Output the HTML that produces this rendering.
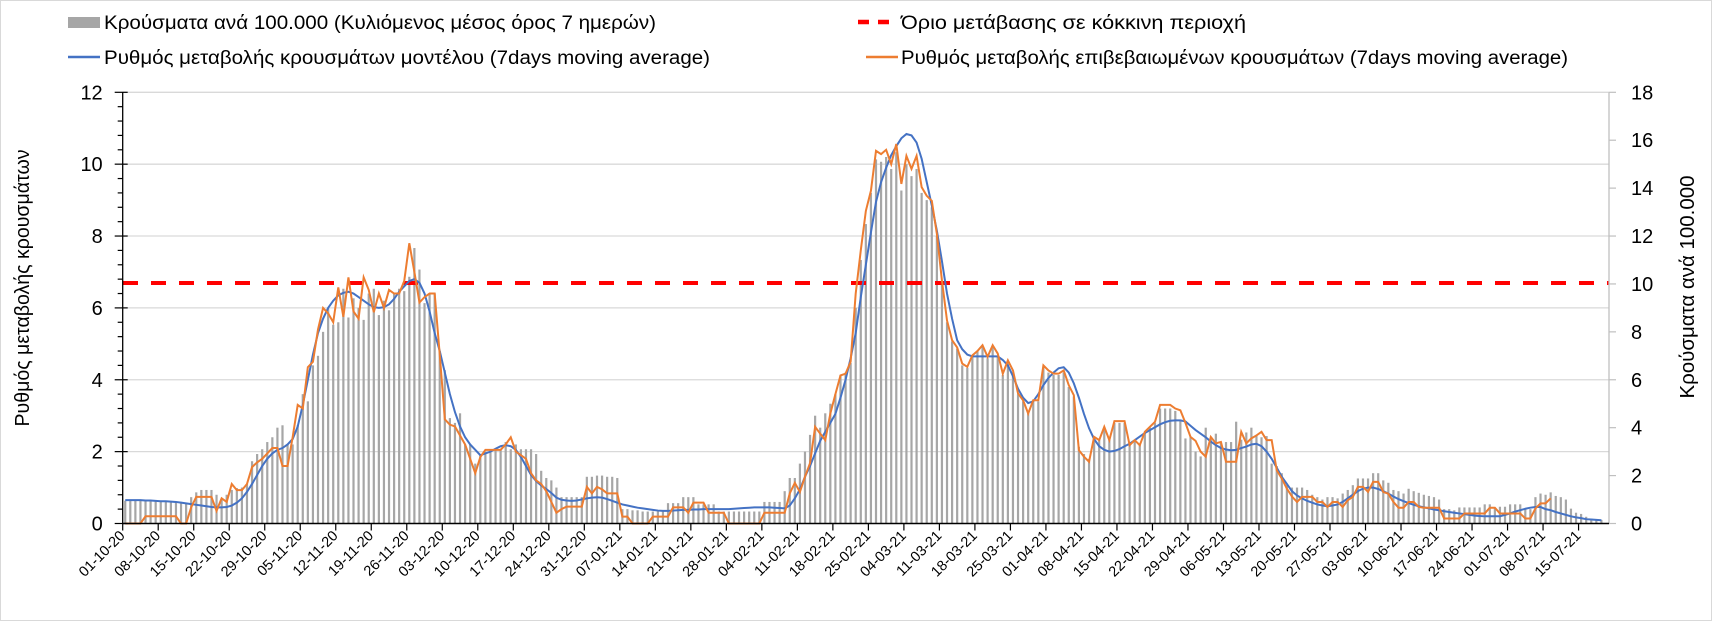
<!DOCTYPE html>
<html><head><meta charset="utf-8"><style>
html,body{margin:0;padding:0;background:#fff;}
svg{display:block;font-family:"Liberation Sans",sans-serif;}
</style></head><body>
<svg id="chart" width="1712" height="621" viewBox="0 0 1712 621" xmlns="http://www.w3.org/2000/svg">
<rect x="0.5" y="0.5" width="1711" height="620" fill="#fff" stroke="#d9d9d9" stroke-width="1"/>
<g id="grid"></g>
<g id="bars"></g>
<line x1="123" x2="1609" y1="283" y2="283" stroke="#ff0000" stroke-width="4" stroke-dasharray="15 13"/>
<path id="blue" fill="none" stroke="#4472c4" stroke-width="2"/>
<path id="orange" fill="none" stroke="#ed7d31" stroke-width="2"/>
<g id="axes"></g>
<g font-size="19" fill="#000">
 <g>
  <rect x="68" y="17" width="32" height="11" fill="#a6a6a6"/>
  <text x="104" y="29" textLength="552" lengthAdjust="spacingAndGlyphs">Κρούσματα ανά 100.000 (Κυλιόμενος μέσος όρος 7 ημερών)</text>
 </g>
 <g>
  <line x1="68" x2="100" y1="57" y2="57" stroke="#4472c4" stroke-width="2.5"/>
  <text x="104" y="64" textLength="606" lengthAdjust="spacingAndGlyphs">Ρυθμός μεταβολής κρουσμάτων μοντέλου (7days moving average)</text>
 </g>
 <g>
  <line x1="858" x2="898" y1="22" y2="22" stroke="#ff0000" stroke-width="4.5" stroke-dasharray="11 9"/>
  <text x="901" y="29" textLength="345" lengthAdjust="spacingAndGlyphs">Όριο μετάβασης σε κόκκινη περιοχή</text>
 </g>
 <g>
  <line x1="866" x2="898" y1="57" y2="57" stroke="#ed7d31" stroke-width="2.5"/>
  <text x="901" y="64" textLength="667" lengthAdjust="spacingAndGlyphs">Ρυθμός μεταβολής επιβεβαιωμένων κρουσμάτων (7days moving average)</text>
 </g>
</g>
<text transform="translate(29,288) rotate(-90)" text-anchor="middle" font-size="20" textLength="277" lengthAdjust="spacingAndGlyphs">Ρυθμός μεταβολής κρουσμάτων</text>
<text transform="translate(1694,287) rotate(-90)" text-anchor="middle" font-size="20" textLength="223" lengthAdjust="spacingAndGlyphs">Κρούσματα ανά 100.000</text>
</svg>
<script>
const xLabels=["01-10-20","08-10-20","15-10-20","22-10-20","29-10-20","05-11-20","12-11-20","19-11-20","26-11-20","03-12-20","10-12-20","17-12-20","24-12-20","31-12-20","07-01-21","14-01-21","21-01-21","28-01-21","04-02-21","11-02-21","18-02-21","25-02-21","04-03-21","11-03-21","18-03-21","25-03-21","01-04-21","08-04-21","15-04-21","22-04-21","29-04-21","06-05-21","13-05-21","20-05-21","27-05-21","03-06-21","10-06-21","17-06-21","24-06-21","01-07-21","08-07-21","15-07-21"];
const leftTicks=[0,2,4,6,8,10,12];
const rightTicks=[0,2,4,6,8,10,12,14,16,18];
const modelRate=[.65,.65,.65,.65,.64,.64,.63,.62,.62,.61,
.60,.58,.56,.54,.52,.50,.48,.46,.45,.45,
.46,.5,.58,.7,.88,1.1,1.35,1.6,1.8,1.95,
2.05,2.1,2.2,2.35,2.7,3.3,4.0,4.7,5.3,5.7,
6.0,6.2,6.35,6.42,6.45,6.4,6.3,6.2,6.1,6.02,
6.0,6.02,6.1,6.25,6.45,6.6,6.75,6.8,6.7,6.4,
5.9,5.3,4.8,4.2,3.6,3.1,2.7,2.4,2.2,2.05,
1.9,1.95,2.0,2.08,2.15,2.18,2.15,2.05,1.85,1.6,
1.35,1.18,1.06,.96,.85,.72,.66,.64,.63,.64,
.67,.7,.72,.73,.72,.68,.63,.58,.53,.5,
.47,.44,.42,.4,.38,.36,.35,.35,.36,.37,
.38,.38,.39,.39,.4,.4,.4,.4,.4,.4,
.41,.42,.43,.44,.45,.45,.45,.45,.44,.43,
.42,.5,.7,.95,1.3,1.6,1.95,2.3,2.55,2.8,
3.05,3.5,4.0,4.6,5.3,6.3,7.2,8.1,8.95,9.5,
9.9,10.25,10.5,10.72,10.84,10.8,10.6,10.15,9.5,8.85,
8.15,7.3,6.4,5.7,5.1,4.85,4.7,4.65,4.65,4.65,
4.65,4.65,4.65,4.55,4.4,4.1,3.75,3.5,3.35,3.4,
3.6,3.85,4.05,4.2,4.32,4.35,4.2,3.9,3.5,3.05,
2.65,2.35,2.15,2.05,2.0,2.02,2.07,2.15,2.22,2.32,
2.42,2.52,2.6,2.68,2.76,2.82,2.86,2.87,2.87,2.84,
2.72,2.6,2.5,2.4,2.28,2.18,2.1,2.06,2.04,2.05,
2.1,2.14,2.2,2.22,2.15,2.0,1.8,1.55,1.3,1.1,
.9,.78,.7,.63,.58,.53,.5,.48,.5,.53,
.6,.7,.8,.9,.97,1.0,1.0,.96,.9,.83,
.75,.68,.62,.57,.52,.48,.45,.42,.39,.37,
.34,.32,.3,.28,.26,.24,.22,.21,.2,.2,
.2,.2,.24,.28,.33,.37,.41,.44,.46,.46,
.4,.37,.32,.28,.24,.2,.17,.15,.12,.11,.1,.09];
const confirmedRate=[0,0,0,0,.2,.2,.2,.2,.2,.2,
.2,0,0,.45,.74,.74,.74,.74,.35,.7,
.6,1.1,.93,.93,1.1,1.57,1.7,1.8,1.95,2.1,
2.1,1.6,1.6,2.4,3.3,3.2,4.35,4.5,5.4,6.0,
5.85,5.6,6.57,5.75,6.85,5.9,5.7,6.85,6.5,5.88,
6.4,6.0,6.5,6.4,6.4,6.75,7.8,7.0,6.15,6.3,
6.4,6.4,4.7,2.9,2.75,2.7,2.45,2.2,1.8,1.4,
1.85,2.05,2.05,2.05,2.05,2.2,2.4,2.0,1.9,1.8,
1.4,1.2,1.1,.9,.6,.3,.4,.47,.47,.47,
.47,1.02,.84,1.02,.95,.84,.84,.84,.19,.19,
0,0,0,0,.19,.19,.19,.19,.45,.45,
.45,.3,.58,.58,.58,.3,.3,.3,.3,0,
0,0,0,0,0,0,.3,.3,.3,.3,
.3,.84,1.13,.88,1.3,1.68,2.69,2.5,2.32,3.06,
3.6,4.12,4.17,4.5,6.4,7.6,8.7,9.26,10.37,10.28,
10.4,10.0,10.56,9.45,10.23,9.87,10.23,9.36,9.12,8.98,
8.06,6.76,5.65,5.1,4.9,4.45,4.36,4.68,4.8,4.96,
4.64,4.96,4.73,4.17,4.54,4.26,3.62,3.43,3.06,3.43,
3.43,4.4,4.26,4.17,4.17,4.26,3.85,3.57,2.04,1.86,
1.72,2.41,2.32,2.69,2.32,2.85,2.85,2.85,2.18,2.32,
2.18,2.55,2.69,2.83,3.3,3.3,3.3,3.2,3.15,2.8,
2.41,2.3,2.0,1.86,2.41,2.23,2.27,1.72,1.72,1.72,
2.55,2.23,2.37,2.45,2.55,2.32,2.32,1.48,1.25,.97,
.75,.6,.74,.74,.74,.6,.6,.46,.6,.6,
.46,.65,.74,1.02,1.02,.88,1.16,1.16,.88,.83,
.6,.44,.44,.6,.6,.46,.44,.44,.44,.44,
.14,.14,.14,.14,.28,.28,.28,.28,.28,.44,
.44,.28,.28,.28,.28,.28,.14,.14,.42,.56,.56,.7];
const casesPer100k=[.95,.95,.95,.95,.95,.95,.95,.95,.9,.9,
.9,.9,.85,1.1,1.3,1.4,1.4,1.4,1.2,1.0,
1.2,1.4,1.48,1.5,1.65,2.6,2.9,3.1,3.4,3.6,
4.0,4.1,3.3,3.3,4.1,5.4,5.1,6.6,7.0,8.0,
9.0,8.3,8.4,9.8,8.6,9.4,9.0,8.5,9.6,9.8,
8.7,9.3,8.9,9.6,9.8,9.7,10.3,11.5,10.6,9.2,
9.6,9.6,7.2,6.4,4.4,4.2,4.6,3.3,3.3,2.5,
2.9,3.0,3.1,3.1,3.1,3.4,3.1,3.3,3.1,3.1,
3.1,2.9,2.2,1.9,1.8,1.5,1.1,1.1,1.1,1.1,
1.1,1.95,1.95,2.0,2.0,1.95,1.95,1.9,.6,.6,
.55,.55,.5,.5,.5,.5,.5,.85,.85,.85,
1.1,1.1,1.1,.8,.8,.8,.8,.5,.5,.5,
.5,.5,.5,.5,.5,.5,.9,.9,.9,.9,
1.35,1.9,1.9,2.5,3.0,3.7,4.5,4.0,4.6,5.0,
5.4,6.2,6.3,6.7,9.0,11.0,12.5,13.8,15.2,15.1,
15.3,14.8,15.5,13.9,15.0,14.5,14.8,13.8,13.5,13.2,
12.0,10.0,8.4,7.6,7.3,6.6,6.5,7.0,7.2,7.4,
6.9,7.4,7.0,6.2,6.8,6.3,5.4,5.1,4.6,5.1,
5.1,6.5,6.3,6.2,6.2,6.3,5.7,5.3,3.2,2.9,
2.7,3.6,3.5,4.0,3.5,4.2,4.2,4.2,3.3,3.5,
3.3,3.8,4.0,4.2,4.8,4.8,4.8,4.7,4.3,3.55,
3.6,3.0,2.8,4.0,3.55,3.75,3.4,3.4,3.4,4.25,
3.5,3.8,4.0,3.7,3.6,3.65,2.5,2.4,2.1,1.6,
1.5,1.5,1.5,1.4,1.2,1.1,1.0,1.1,1.1,1.05,
1.25,1.4,1.6,1.88,1.88,1.88,2.1,2.1,1.8,1.7,
1.4,1.35,1.25,1.45,1.35,1.28,1.2,1.15,1.1,1.0,
.6,.6,.55,.67,.67,.67,.67,.67,.8,.8,
.67,.7,.7,.8,.8,.8,.6,.6,1.1,1.25,1.2,1.3,1.15,1.1,1.0,.62,.45,.4,.28,.2,.18,.15];

const NS='http://www.w3.org/2000/svg';
const X0=122.7, X1=1609, Y0=523.5, Y1=92.3, NCAT=293;
const cw=(X1-X0)/NCAT;
function xCat(i){return X0+(i+0.5)*cw;}
function yL(v){return Y0-(v/12)*(Y0-Y1);}
function yR(v){return Y0-(v/18)*(Y0-Y1);}
function mk(tag,attrs,parent){const e=document.createElementNS(NS,tag);for(const k in attrs)e.setAttribute(k,attrs[k]);parent.appendChild(e);return e;}

const grid=document.getElementById('grid');
leftTicks.forEach(v=>{if(v===0)return;
 const l=mk('line',{x1:X0,x2:X1,y1:yL(v),y2:yL(v),stroke:'#d9d9d9','stroke-width':1.3},grid);
 
 
});

const bars=document.getElementById('bars');
casesPer100k.forEach((v,i)=>{
 const r=mk('rect',{x:xCat(i)-1.1,y:yR(v),width:2.2,height:Y0-yR(v),fill:'#a6a6a6'},bars);
 
 
});

function path(arr,yf){return arr.map((v,i)=>(i?'L':'M')+xCat(i).toFixed(2)+','+yf(v).toFixed(2)).join('');}
document.getElementById('blue').setAttribute('d',path(modelRate,yL));
document.getElementById('orange').setAttribute('d',path(confirmedRate,yL));

const axes=document.getElementById('axes');
mk('line',{x1:X0,x2:X0,y1:Y1,y2:Y0,stroke:'#000','stroke-width':1.3},axes);
mk('line',{x1:X1,x2:X1,y1:Y1,y2:Y0,stroke:'#bfbfbf','stroke-width':1.3},axes);
mk('line',{x1:X0,x2:X1,y1:Y0,y2:Y0,stroke:'#000','stroke-width':1.5},axes);
for(let m=0;m<=30;m++){const v=m*0.4;const y=yL(v);
 if(Math.abs(v-Math.round(v/2)*2)<1e-6) mk('line',{x1:X0-8,x2:X0+5,y1:y,y2:y,stroke:'#000','stroke-width':1.2},axes);
 else mk('line',{x1:X0-5,x2:X0,y1:y,y2:y,stroke:'#000','stroke-width':1.2},axes);
}
leftTicks.forEach(v=>{
 const t=mk('text',{x:X0-20,y:yL(v)+7,'text-anchor':'end','font-size':20,fill:'#000'},axes);
 t.textContent=v;
 
 
});
rightTicks.forEach(v=>{
 mk('line',{x1:X1,x2:X1+7,y1:yR(v),y2:yR(v),stroke:'#bfbfbf','stroke-width':1.2},axes);
 const t=mk('text',{x:X1+22,y:yR(v)+7,'text-anchor':'start','font-size':20,fill:'#000'},axes);
 t.textContent=v;
 
 
});
xLabels.forEach((lab,k)=>{
 const x=X0+7*k*cw;
 mk('line',{x1:x,x2:x,y1:Y0,y2:Y0+7,stroke:'#000','stroke-width':1.2},axes);
 const t=mk('text',{transform:'translate('+(x+3)+','+(Y0+13)+') rotate(-45)','text-anchor':'end','font-size':14.5,fill:'#000'},axes);
 t.textContent=lab;
 
 
});
</script>
</body></html>
